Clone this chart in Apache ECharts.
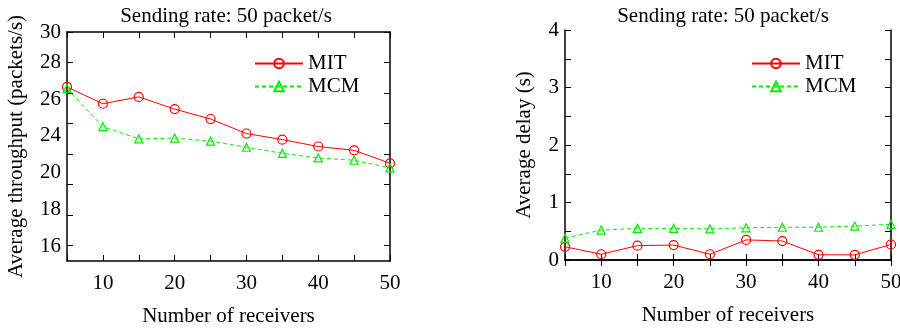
<!DOCTYPE html>
<html>
<head>
<meta charset="utf-8">
<script src="https://cdn.jsdelivr.net/npm/echarts@6/dist/echarts.min.js"></script>
<style>
  html, body { margin: 0; padding: 0; background: #fff; }
  #chart { width: 900px; height: 331px; }
</style>
</head>
<body>
<div id="chart"></div>
<script>
// number of receivers
var receivers = [5, 10, 15, 20, 25, 30, 35, 40, 45, 50];

// left: average throughput (packets/s)
var thrMIT = [26.4, 25.3, 25.75, 24.95, 24.3, 23.35, 22.95, 22.5, 22.25, 21.4];
var thrMCM = [26.3, 23.8, 23.0, 23.05, 22.85, 22.45, 22.05, 21.75, 21.6, 21.1];

// right: average delay (s)
var delMIT = [0.23, 0.10, 0.25, 0.26, 0.10, 0.35, 0.33, 0.09, 0.09, 0.27];
var delMCM = [0.38, 0.52, 0.55, 0.55, 0.54, 0.56, 0.57, 0.57, 0.59, 0.62];

// left y tick marks and the (oddly placed) tick labels of the original figure
var thrTicks = [16, 18, 20, 22, 24, 26, 28, 30];
var thrLabelPos = [15.93, 18.35, 20.8, 23.25, 25.6, 28, 30];
var thrLabelText = ['16', '18', '20', '24', '26', '28', '30'];

var titleText = 'Sending rate: 50 packet/s';
var font = 'Liberation Serif';

function pairs(ys) {
  return receivers.map(function (x, i) { return [x, ys[i]]; });
}

var chart = echarts.init(document.getElementById('chart'));

var tickStyle = { show: true, inside: true, length: 6, lineStyle: { color: '#000', width: 1 } };
var lineStyle = { show: true, lineStyle: { color: '#000', width: 1.5 } };
var labelStyle = { color: '#000', fontFamily: font, fontSize: 21 };

function xAxes(gridIndex) {
  return [
    {
      gridIndex: gridIndex, type: 'value', min: 5, max: 50, interval: 5,
      axisLine: lineStyle, axisTick: tickStyle, splitLine: { show: false },
      axisLabel: Object.assign({ margin: 12, formatter: function (v) { return v % 10 === 0 ? v : ''; } }, labelStyle),
      name: 'Number of receivers', nameLocation: 'middle', nameGap: 45,
      nameTextStyle: labelStyle
    },
    {
      gridIndex: gridIndex, type: 'value', position: 'top', min: 5, max: 50, interval: 5,
      axisLine: lineStyle, axisTick: tickStyle, axisLabel: { show: false }, splitLine: { show: false }
    }
  ];
}

function mkSeries(name, data, xi, yi, dashed) {
  var color = dashed ? '#00ee00' : '#ff0000';
  return {
    name: name, type: 'line', xAxisIndex: xi, yAxisIndex: yi, data: data,
    symbol: dashed ? 'triangle' : 'circle', symbolSize: dashed ? 8 : 9,
    showAllSymbol: true,
    itemStyle: { color: 'rgba(255,255,255,0)', borderColor: color, borderWidth: 1.2 },
    lineStyle: { color: color, width: 1, type: dashed ? [4, 3] : 'solid' },
    animation: false
  };
}

var titleStyle = { fontFamily: font, fontSize: 21, fontWeight: 'normal', color: '#000' };

var option = {
  animation: false,
  backgroundColor: '#fff',
  title: [
    { text: titleText, left: 221, top: 1, textAlign: 'center', textStyle: titleStyle },
    { text: titleText, left: 718, top: 1, textAlign: 'center', textStyle: titleStyle }
  ],
  legend: [
    {
      data: ['MIT', 'MCM'], orient: 'vertical', left: 249, top: 48,
      itemWidth: 48, itemHeight: 12, itemGap: 2,
      textStyle: { fontFamily: font, fontSize: 21, color: '#000', lineHeight: 21 },
      selectedMode: false
    }
  ],
  grid: [
    { left: 67, top: 32, width: 323, height: 229, outerBoundsMode: 'none', containLabel: false },
    { left: 565, top: 30, width: 326, height: 230, outerBoundsMode: 'none', containLabel: false }
  ],
  xAxis: xAxes(0).concat(xAxes(1)),
  yAxis: [
    {
      gridIndex: 0, type: 'value', min: 15, max: 30,
      axisLine: lineStyle, splitLine: { show: false },
      axisTick: Object.assign({ customValues: thrTicks }, tickStyle),
      axisLabel: Object.assign({
        margin: 6, customValues: thrLabelPos,
        formatter: function (v) { return thrLabelText[thrLabelPos.indexOf(v)]; }
      }, labelStyle),
      name: 'Average throughput (packets/s)', nameLocation: 'middle', nameRotate: 90, nameGap: 40,
      nameTextStyle: labelStyle
    },
    {
      gridIndex: 0, type: 'value', position: 'right', min: 15, max: 30,
      axisLine: lineStyle, splitLine: { show: false }, axisLabel: { show: false },
      axisTick: Object.assign({ customValues: thrTicks }, tickStyle)
    },
    {
      gridIndex: 1, type: 'value', min: 0, max: 4, interval: 0.5,
      axisLine: lineStyle, axisTick: tickStyle, splitLine: { show: false },
      axisLabel: Object.assign({ margin: 6, formatter: function (v) { return v % 1 === 0 ? v : ''; } }, labelStyle),
      name: 'Average delay (s)', nameLocation: 'middle', nameRotate: 90, nameGap: 30,
      nameTextStyle: labelStyle
    },
    {
      gridIndex: 1, type: 'value', position: 'right', min: 0, max: 4, interval: 0.5,
      axisLine: lineStyle, axisTick: tickStyle, splitLine: { show: false }, axisLabel: { show: false }
    }
  ],
  series: [
    mkSeries('MIT', pairs(thrMIT), 0, 0, false),
    mkSeries('MCM', pairs(thrMCM), 0, 0, true),
    mkSeries('MIT', pairs(delMIT), 2, 2, false),
    mkSeries('MCM', pairs(delMCM), 2, 2, true)
  ]
};

// second legend for the right panel
option.legend.push(Object.assign({}, option.legend[0], { left: 746 }));

chart.setOption(option);
</script>
</body>
</html>
